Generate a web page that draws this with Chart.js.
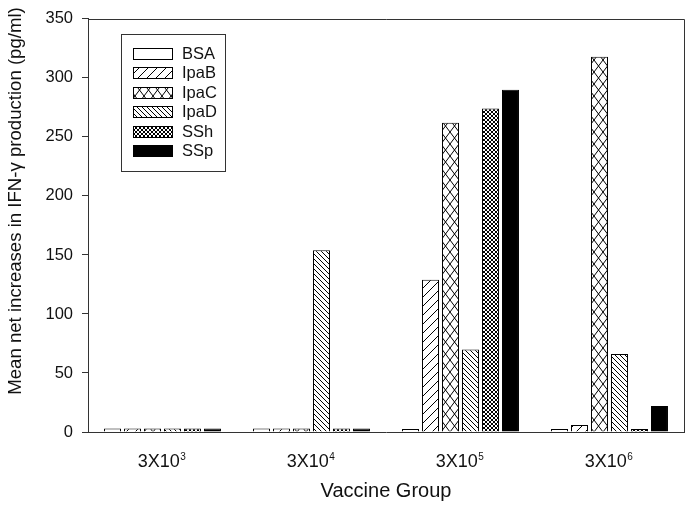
<!DOCTYPE html>
<html><head><meta charset="utf-8">
<script src="https://cdn.jsdelivr.net/npm/chart.js@4.4.1/dist/chart.umd.min.js"></script>
<style>html,body{margin:0;padding:0;background:#fff}#wrap{width:688px;height:506px}</style>
</head><body><div id="wrap"><canvas id="c" width="688" height="506"></canvas></div>
<script>
const categories = ['3X10³', '3X10⁴', '3X10⁵', '3X10⁶'];
const seriesNames = ['BSA', 'IpaB', 'IpaC', 'IpaD', 'SSh', 'SSp'];
const bsa  = [3, 3, 2.5, 2.5];
const ipaB = [3, 3, 129, 6];
const ipaC = [3, 3, 262, 318];
const ipaD = [3, 154, 70, 66];
const ssh  = [3, 3, 274, 2.5];
const ssp  = [3, 3, 290, 22];
const yTicks = [0, 50, 100, 150, 200, 250, 300, 350];
const xTitle = 'Vaccine Group';
const yTitle = 'Mean net increases in IFN-γ production (pg/ml)';

const FONT = "'Liberation Sans', Arial, Helvetica, sans-serif";
Chart.defaults.font.family = FONT;

const SUP = {'⁰':'0','¹':'1','²':'2','³':'3','⁴':'4','⁵':'5','⁶':'6','⁷':'7','⁸':'8','⁹':'9'};

function makePattern(kind) {
  if (kind === 'solid') return '#000';
  if (kind === 'none') return '#fff';
  const c = document.createElement('canvas');
  let w, h;
  if (kind === 'fwd') { w = 9; h = 9; }
  else if (kind === 'back') { w = 5; h = 5; }
  else if (kind === 'cross') { w = 9; h = 12; }
  else { w = 4; h = 4; }
  c.width = w; c.height = h;
  const g = c.getContext('2d');
  g.fillStyle = '#fff'; g.fillRect(0, 0, w, h);
  g.strokeStyle = '#000'; g.lineWidth = 1;
  g.beginPath();
  for (let k = -1; k <= 1; k++) {
    if (kind === 'fwd' || kind === 'cross' || kind === 'dense') {
      g.moveTo(k * w, h); g.lineTo(k * w + w, 0);
    }
    if (kind === 'back' || kind === 'cross' || kind === 'dense') {
      g.moveTo(k * w, 0); g.lineTo(k * w + w, h);
    }
  }
  g.stroke();
  return g.createPattern(c, 'repeat');
}

const fills = [makePattern('none'), makePattern('fwd'), makePattern('cross'),
               makePattern('back'), makePattern('dense'), makePattern('solid')];
const seriesData = [bsa, ipaB, ipaC, ipaD, ssh, ssp];

const datasets = seriesNames.map((name, i) => ({
  label: name,
  data: seriesData[i],
  backgroundColor: fills[i],
  borderColor: '#000',
  borderWidth: 1,
  categoryPercentage: 0.805,
  barPercentage: 0.85
}));

const framePlugin = {
  id: 'frame',
  afterDraw(chart) {
    const {ctx, chartArea: a} = chart;
    ctx.save();
    ctx.strokeStyle = '#333';
    ctx.lineWidth = 1;
    ctx.beginPath();
    ctx.moveTo(a.left, Math.round(a.top) + 0.5);
    ctx.lineTo(Math.round(a.right) + 0.5, Math.round(a.top) + 0.5);
    ctx.lineTo(Math.round(a.right) + 0.5, Math.round(a.bottom));
    ctx.stroke();

    // x tick labels with raised exponents
    const xs = chart.scales.x;
    ctx.fillStyle = '#111';
    ctx.textBaseline = 'alphabetic';
    ctx.textAlign = 'left';
    chart.data.labels.forEach((lab, i) => {
      let base = '', sup = '';
      for (const ch of lab) { if (SUP[ch]) sup += SUP[ch]; else base += ch; }
      ctx.font = '18px ' + FONT;
      const bw = ctx.measureText(base).width;
      ctx.font = '10px ' + FONT;
      const sw = ctx.measureText(sup).width;
      const x0 = xs.getPixelForTick(i) - (bw + sw) / 2 - 1;
      ctx.font = '18px ' + FONT;
      ctx.fillText(base, x0, 467);
      ctx.font = '10px ' + FONT;
      ctx.fillText(sup, x0 + bw + 0.5, 460);
    });

    // y-axis title
    ctx.font = '18.6px ' + FONT;
    ctx.textAlign = 'center';
    ctx.textBaseline = 'middle';
    ctx.translate(16, 201);
    ctx.rotate(-Math.PI / 2);
    ctx.fillText(yTitle, 0, 0);
    ctx.restore();

    // legend
    ctx.save();
    const bx = 121.5, by = 34.5, bw = 104, bh = 137;
    ctx.fillStyle = '#fff';
    ctx.fillRect(bx, by, bw, bh);
    ctx.strokeStyle = '#333';
    ctx.strokeRect(bx, by, bw, bh);
    ctx.font = '16.5px ' + FONT;
    ctx.textAlign = 'left';
    ctx.textBaseline = 'middle';
    chart.data.datasets.forEach((ds, i) => {
      const cy = 53 + i * 19.5;
      const sx = 133, sw = 39, sh = 11;
      const sy = Math.round(cy - sh / 2) + 0.5;
      ctx.fillStyle = ds.backgroundColor;
      ctx.fillRect(sx + 0.5, sy, sw, sh);
      ctx.strokeStyle = '#000';
      ctx.strokeRect(sx + 0.5, sy, sw, sh);
      ctx.fillStyle = '#111';
      ctx.fillText(ds.label, 182, cy + 1);
    });
    ctx.restore();
  }
};

new Chart(document.getElementById('c'), {
  type: 'bar',
  data: { labels: categories, datasets },
  options: {
    responsive: false,
    animation: false,
    devicePixelRatio: 1,
    layout: { padding: { top: 12, right: 4, left: 0, bottom: 0 } },
    plugins: { legend: { display: false }, tooltip: { enabled: false } },
    scales: {
      x: {
        grid: { display: false, drawTicks: false },
        border: { display: true, color: '#333', width: 1 },
        ticks: { display: false },
        title: { display: true, text: xTitle, font: { size: 20 }, color: '#111', padding: { top: 0, bottom: 3 } },
        afterFit(s) { s.height = 74; }
      },
      y: {
        min: 0, max: 350,
        afterBuildTicks(s) { s.ticks = yTicks.map(v => ({ value: v })); },
        grid: { drawOnChartArea: false, drawTicks: true, tickLength: 6, color: '#333' },
        border: { display: true, color: '#333', width: 1 },
        ticks: { font: { size: 16.5 }, color: '#111', padding: 9 },
        afterFit(s) { s.width = 88; }
      }
    }
  },
  plugins: [framePlugin]
});
</script></body></html>
